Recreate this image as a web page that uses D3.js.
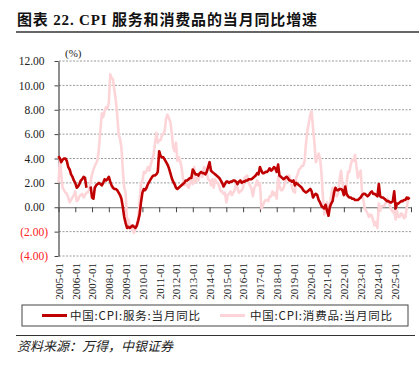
<!DOCTYPE html>
<html>
<head>
<meta charset="utf-8">
<script src="https://cdn.jsdelivr.net/npm/d3@7"></script>
<style>
  body { margin: 0; background: #fff; }
  svg { display: block; }
</style>
</head>
<body>
<script>
const title = "图表 22. CPI 服务和消费品的当月同比增速";
const source = "资料来源：万得，中银证券";
const unitLabel = "(%)";
const seriesNames = ["中国:CPI:服务:当月同比", "中国:CPI:消费品:当月同比"];
const firstMonth = "2005-01";
const axisEnd = "2026-01";
const yTicks = [-4, -2, 0, 2, 4, 6, 8, 10, 12];

// 服务 yoy %, monthly 2005-01 .. 2025-12 (one row per year)
const services = [
  4.2, 4.0, 3.7, 3.9, 4.0, 4.0, 3.8, 3.3, 3.1, 2.7, 2.5, 2.2,
  2.0, 1.6, 1.7, 1.9, 2.2, 2.3, 2.5, 2.4, 1.6, null, null, 1.7,
  0.8, 0.7, 1.6, 1.8, 1.9, 2.0, 1.9, 1.8, 2.0, 2.3, 2.2, 2.3,
  2.5, 2.1, 1.8, 1.6, 1.5, 1.5, 1.4, 1.2, 1.0, 0.7, 0.0, -0.8,
  -1.3, -1.7, -1.6, -1.7, -1.6, -1.5, -1.6, -1.7, -1.5, -1.1, -0.6, 0.4,
  1.2, 1.5, 1.4, 1.6, 1.9, 2.1, 2.3, 2.5, 2.6, 2.6, 2.7, 2.9,
  4.6, 4.2, 4.1, 4.1, 3.9, 3.7, 3.5, 3.2, 2.8, 2.4, 2.1, 1.9,
  1.6, 1.5, 1.6, 1.7, 1.8, 1.9, 2.0, 2.2, 2.2, 2.3, 2.4, 2.4,
  3.1, 2.9, 2.7, 2.7, 2.6, 2.8, 2.9, 2.8, 2.8, 2.7, 2.9, 3.3,
  3.7, 3.0, 2.9, 2.8, 2.7, 2.6, 2.5, 2.4, 2.2, 2.0, 1.7, 1.9,
  2.1, 2.1, 2.0, 2.1, 2.1, 2.2, 2.2, 2.1, 1.9, 2.1, 2.2, 2.0,
  2.1, 2.1, 2.2, 2.2, 2.3, 2.3, 2.3, 2.4, 2.5, 2.6, 2.8, 2.7,
  3.3, 3.0, 2.8, 2.8, 2.9, 2.9, 3.0, 3.2, 3.0, 3.1, 3.3, 3.2,
  2.9, 3.5, 2.6, 2.5, 2.4, 2.3, 2.4, 2.5, 2.4, 2.2, 2.2, 2.1,
  2.2, 1.8, 2.0, 1.9, 1.8, 1.7, 1.6, 1.4, 1.3, 1.2, 1.3, 1.4,
  1.5, 1.3, 0.8, 1.0, 1.1, 1.0, 0.6, 0.4, 0.1, 0.0, -0.1, 0.2,
  -0.3, -0.7, 0.0, 0.3, 0.5, 1.2, 1.6, 1.4, 1.4, 1.5, 1.5, 1.4,
  1.0, 1.7, 1.1, 0.9, 0.8, 0.8, 0.7, 0.7, 0.6, 0.6, 0.6, 0.7,
  0.8, 1.0, 1.1, 1.1, 1.0, 0.9, 1.0, 1.2, 1.3, 1.1, 1.1, 1.0,
  0.9, 1.9, 0.9, 0.8, 0.8, 0.7, 0.6, 0.5, 0.5, 0.4, 0.4, 0.5,
  1.3, -0.1, 0.3, 0.3, 0.4, 0.5, 0.5, 0.6, 0.6, 0.8, 0.7, 0.8
];

// 消费品 yoy %, monthly 2005-01 .. 2025-12
const goods = [
  2.0, 4.0, 2.7, 1.6, 1.4, 1.2, 1.1, 0.8, 0.4, 0.6, 0.8, 1.0,
  1.3, 0.5, 0.6, 0.9, 1.0, 1.1, 0.8, 1.0, 1.2, 1.2, 1.5, 2.1,
  2.7, 3.1, 3.4, 3.6, 3.9, 4.9, 6.3, 7.7, 7.4, 7.9, 8.2, 8.1,
  8.6, 10.9, 10.6, 10.5, 9.6, 8.8, 7.6, 6.0, 5.6, 4.9, 3.0, 1.6,
  1.2, -1.4, -1.0, -1.6, -1.5, -1.9, -2.1, -1.8, -1.4, -0.9, 0.5, 1.9,
  2.2, 2.9, 2.8, 3.0, 3.3, 3.0, 3.5, 3.9, 4.3, 5.2, 6.1, 5.3,
  5.5, 5.5, 5.9, 6.0, 6.3, 7.3, 7.6, 7.3, 7.0, 6.1, 4.9, 4.6,
  5.3, 3.8, 4.1, 3.8, 3.3, 2.4, 1.8, 2.1, 1.8, 1.6, 1.9, 2.6,
  1.9, 3.3, 2.0, 2.4, 2.2, 2.6, 2.7, 2.5, 3.3, 3.2, 2.8, 2.3,
  2.2, 1.8, 2.3, 1.6, 2.3, 2.0, 2.0, 1.7, 1.3, 1.3, 1.1, 1.2,
  0.4, 1.0, 1.1, 1.3, 1.0, 1.2, 1.4, 2.0, 1.6, 1.2, 1.3, 1.4,
  1.6, 2.4, 2.5, 2.6, 2.0, 1.8, 1.5, 0.9, 1.6, 1.8, 2.2, 1.8,
  2.0, -0.1, 0.1, 0.4, 0.6, 0.6, 0.5, 0.9, 0.9, 1.3, 1.0, 1.2,
  0.7, 2.5, 1.8, 1.4, 1.4, 1.6, 2.0, 2.3, 2.6, 2.6, 2.1, 1.6,
  1.3, 1.2, 2.4, 2.7, 3.1, 3.2, 3.4, 3.4, 3.8, 5.3, 6.3, 6.9,
  7.6, 7.9, 6.5, 5.3, 3.7, 4.0, 4.4, 4.0, 2.8, 0.9, -0.6, 0.2,
  0.4, -0.1, 0.2, 1.0, 1.6, 1.3, 1.1, 0.9, 1.2, 2.3, 3.0, 2.0,
  1.2, 1.0, 1.9, 2.9, 2.9, 3.5, 3.9, 3.8, 4.3, 3.4, 2.4, 2.8,
  3.0, 1.2, 0.6, -0.1, -0.3, -0.5, -0.8, -0.6, -0.7, -1.1, -1.5, -1.2,
  -1.7, 0.3, -0.3, 0.1, 0.1, 0.1, 0.4, 0.7, 0.4, 0.1, -0.2, -0.4,
  -0.3, -1.0, -0.3, -0.8, -0.8, -0.5, -0.6, -0.9, -0.8, 0.0, 0.7, 0.9
];

const width = 419;
const height = 370;
const red = "#c00000";
const pink = "#fdd5d9";

const svg = d3.select("body").append("svg")
  .attr("width", width)
  .attr("height", height);

const parse = d3.timeParse("%Y-%m");
const fmt = d3.timeFormat("%Y-%m");
const t0 = parse(firstMonth), t1 = parse(axisEnd);
const months = d3.timeMonth.range(t0, t1);

const x = d3.scaleTime().domain([t0, t1]).range([58.5, 411]);
const y = d3.scaleLinear().domain([-4, 12]).range([256, 61]);

// title + rules
svg.append("text")
  .attr("x", 17).attr("y", 25)
  .attr("font-family", "'Liberation Serif', 'Noto Sans CJK SC', serif")
  .attr("font-weight", "bold")
  .attr("font-size", 15)
  .attr("fill", "#111")
  .attr("textLength", 300)
  .attr("lengthAdjust", "spacing")
  .text(title);

svg.append("line")
  .attr("x1", 16).attr("x2", 419).attr("y1", 32).attr("y2", 32)
  .attr("stroke", "#333").attr("stroke-width", 1.3);

// grid
svg.append("g")
  .selectAll("line")
  .data(yTicks.filter(d => d !== 0))
  .join("line")
  .attr("x1", 59).attr("x2", 411)
  .attr("y1", d => y(d)).attr("y2", d => y(d))
  .attr("stroke", "#9a9a9a")
  .attr("stroke-dasharray", "2,1.5")
  .attr("stroke-width", 1);

// y axis
const yAxis = svg.append("g")
  .attr("transform", `translate(${x(t0)},0)`)
  .call(d3.axisLeft(y).tickValues(yTicks).tickSize(4).tickSizeOuter(0)
    .tickFormat(d => d < 0 ? `(${d3.format(".2f")(-d)})` : d3.format(".2f")(d)));
yAxis.select(".domain").attr("stroke", "#444").attr("stroke-width", 1.2);
yAxis.selectAll(".tick line").attr("stroke", "#444");
yAxis.selectAll(".tick text")
  .attr("font-family", "'Liberation Serif', serif")
  .attr("font-size", 11.5)
  .attr("x", d => d < 0 ? -10.5 : -14)
  .attr("fill", d => d < 0 ? "#ff2020" : "#222");

svg.append("text")
  .attr("x", 65).attr("y", 57)
  .attr("font-family", "'Liberation Serif', serif")
  .attr("font-size", 11)
  .attr("fill", "#222")
  .text(unitLabel);

// x axis on zero line
const years = d3.timeYear.range(t0, d3.timeMonth.offset(t1, 1));
const xAxis = svg.append("g")
  .attr("transform", `translate(0,${y(0)})`)
  .call(d3.axisBottom(x).tickValues(years).tickSize(5).tickSizeOuter(0).tickFormat(""));
xAxis.select(".domain").attr("stroke", "#666").attr("stroke-width", 1.2);
xAxis.selectAll(".tick line").attr("stroke", "#444");

// rotated month labels under the plot
svg.append("g")
  .selectAll("text")
  .data(years.filter(d => d < t1))
  .join("text")
  .attr("transform", d => `translate(${x(d) + 0.5},263) rotate(-90)`)
  .attr("text-anchor", "end")
  .attr("dy", "0.35em")
  .attr("font-family", "'Liberation Serif', serif")
  .attr("font-size", 11)
  .attr("fill", "#222")
  .text(d => fmt(d));

// lines
const line = d3.line()
  .defined(d => d[1] != null)
  .x(d => x(d[0]))
  .y(d => y(d[1]));

svg.append("path")
  .datum(months.map((m, i) => [m, goods[i]]))
  .attr("d", line)
  .attr("fill", "none")
  .attr("stroke", pink)
  .attr("stroke-width", 2.6)
  .attr("stroke-linejoin", "round");

svg.append("path")
  .datum(months.map((m, i) => [m, services[i]]))
  .attr("d", line)
  .attr("fill", "none")
  .attr("stroke", red)
  .attr("stroke-width", 2.6)
  .attr("stroke-linejoin", "round");

// legend
svg.append("rect")
  .attr("x", 22).attr("y", 305).attr("width", 386).attr("height", 21)
  .attr("fill", "none").attr("stroke", "#444").attr("stroke-width", 1);

const legend = [
  { name: seriesNames[0], color: red, lx: 42, tx: 70, tw: 130 },
  { name: seriesNames[1], color: pink, lx: 220, tx: 250, tw: 142 }
];
const lg = svg.append("g").selectAll("g").data(legend).join("g");
lg.append("line")
  .attr("x1", d => d.lx).attr("x2", d => d.lx + 25)
  .attr("y1", 315.5).attr("y2", 315.5)
  .attr("stroke", d => d.color).attr("stroke-width", 3);
lg.append("text")
  .attr("x", d => d.tx).attr("y", 320)
  .attr("font-family", "'Noto Sans CJK SC', sans-serif")
  .attr("font-size", 11.5)
  .attr("fill", "#222")
  .attr("textLength", d => d.tw)
  .attr("lengthAdjust", "spacing")
  .text(d => d.name);

// bottom rule + source
svg.append("line")
  .attr("x1", 16).attr("x2", 415).attr("y1", 335.5).attr("y2", 335.5)
  .attr("stroke", "#333").attr("stroke-width", 1);

svg.append("text")
  .attr("x", 17).attr("y", 351)
  .attr("font-family", "'Noto Sans CJK SC', sans-serif")
  .attr("font-size", 13)
  .attr("font-style", "italic")
  .attr("fill", "#222")
  .text(source);
</script>
</body>
</html>
